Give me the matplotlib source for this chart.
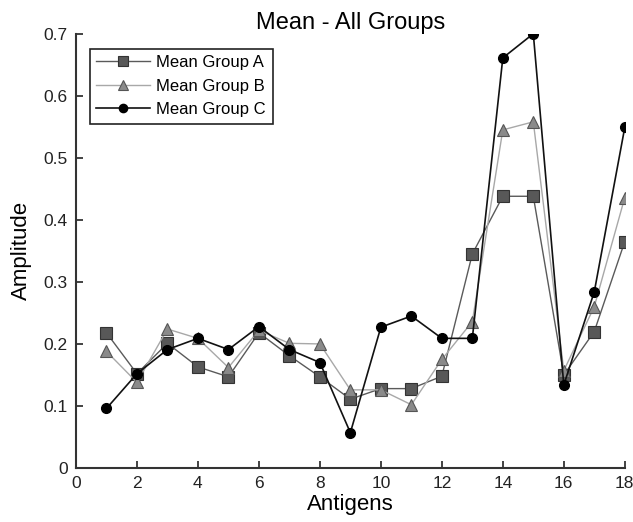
import matplotlib
matplotlib.use("Agg")
import matplotlib.pyplot as plt

# antigen index and mean amplitude per group
antigens = list(range(1, 19))
group_a = [0.218, 0.152, 0.201, 0.163, 0.147, 0.218, 0.181, 0.147, 0.111,
           0.128, 0.128, 0.148, 0.345, 0.438, 0.438, 0.150, 0.220, 0.365]
group_b = [0.188, 0.138, 0.224, 0.209, 0.162, 0.222, 0.201, 0.200, 0.126,
           0.126, 0.102, 0.175, 0.236, 0.545, 0.558, 0.157, 0.260, 0.436]
group_c = [0.096, 0.152, 0.191, 0.209, 0.191, 0.228, 0.191, 0.170, 0.057,
           0.227, 0.245, 0.209, 0.209, 0.661, 0.700, 0.134, 0.284, 0.549]

xticks = [0, 2, 4, 6, 8, 10, 12, 14, 16, 18]
yticks = [0, 0.1, 0.2, 0.3, 0.4, 0.5, 0.6, 0.7]
ytick_labels = ["0", "0.1", "0.2", "0.3", "0.4", "0.5", "0.6", "0.7"]

plt.rcParams['font.family'] = ['Liberation Sans', 'DejaVu Sans']

fig = plt.figure(figsize=(6.33, 5.22), dpi=100)
ax = fig.add_axes([0.120, 0.1034, 0.867, 0.832])

ax.plot(antigens, group_a, color="#5a5a5a", lw=1.0, marker="s", ms=8,
        mfc="#585858", mec="#333333", mew=0.8, label="Mean Group A")
ax.plot(antigens, group_b, color="#a8a8a8", lw=1.0, marker="^", ms=9,
        mfc="#8a8a8a", mec="#555555", mew=0.8, label="Mean Group B")
ax.plot(antigens, group_c, color="#111111", lw=1.2, marker="o", ms=7,
        mfc="#000000", mec="#000000", label="Mean Group C")

ax.set_xlim(0, 18)
ax.set_ylim(0, 0.7)
ax.set_xticks(xticks)
ax.set_yticks(yticks)
ax.set_yticklabels(ytick_labels)
ax.tick_params(direction="in", length=5, width=1.2, labelsize=12.5,
               colors="#222222", pad=6)
for side in ["top", "right"]:
    ax.spines[side].set_visible(False)
for side in ["left", "bottom"]:
    ax.spines[side].set_linewidth(1.5)
    ax.spines[side].set_color("#333333")

ax.set_title("Mean - All Groups", fontsize=17, pad=3)
ax.set_xlabel("Antigens", fontsize=16, labelpad=2)
ax.set_ylabel("Amplitude", fontsize=16, labelpad=8)

leg = ax.legend(loc="upper left", bbox_to_anchor=(0.01, 0.985), fontsize=12,
                fancybox=False, edgecolor="#222222", framealpha=1,
                borderpad=0.4, handlelength=3.2, labelspacing=0.5,
                handletextpad=0.4, markerscale=0.85)
leg.get_frame().set_linewidth(1.2)

fig.savefig("out.png", dpi=100)
